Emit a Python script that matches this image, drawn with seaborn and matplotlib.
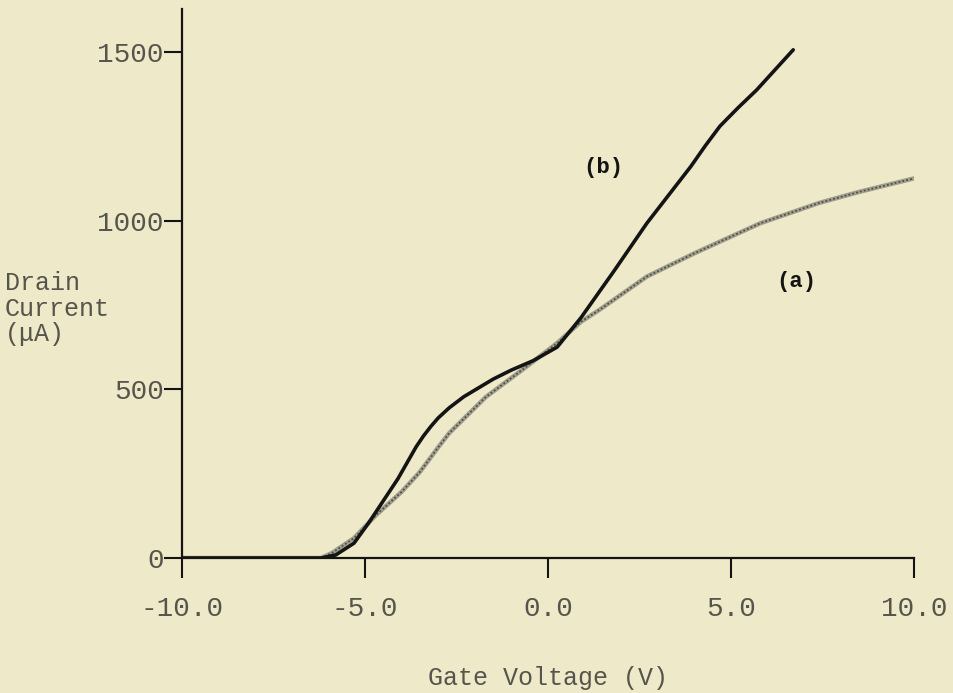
import matplotlib
matplotlib.use("Agg")
import matplotlib.pyplot as plt
import seaborn as sns
import pandas as pd

# ---- data ----
a_volts = [-10, -6.2, -5.9, -5.3, -4.7, -4.0, -3.5, -3.0, -2.7, -1.7, -0.6, 0.25, 0.9, 1.4, 2.7, 4.0, 5.8, 7.4, 8.5, 10.0]
a_current = [0, 0, 15, 59, 127, 196, 255, 328, 370, 477, 566, 637, 700, 735, 834, 903, 992, 1052, 1085, 1125]

b_volts = [-10, -6.2, -5.8, -5.3, -4.9, -4.1, -3.6, -3.4, -3.2, -3.0, -2.7, -2.3, -1.9, -1.5, -1.0, -0.4, 0.25, 0.9, 1.8, 2.7, 3.9, 4.3, 4.7, 5.2, 5.7, 6.7]
b_current = [0, 0, 9, 44, 104, 235, 330, 362, 390, 415, 445, 478, 504, 530, 557, 585, 625, 712, 850, 992, 1160, 1222, 1280, 1335, 1387, 1506]

x_ticks = [-10.0, -5.0, 0.0, 5.0, 10.0]
x_tick_labels = ["-10.0", "-5.0", "0.0", "5.0", "10.0"]
y_ticks = [0, 500, 1000, 1500]
y_tick_labels = ["0", "500", "1000", "1500"]

curve_labels = ["(a)", "(b)"]
label_pos_v = [6.78, 1.50]
label_pos_i = [818, 1156]

x_title = "Gate Voltage (V)"
y_title = "Drain\nCurrent\n(\u03bcA)"

# ---- styling ----
sns.set_style("ticks")
plt.rcParams["font.family"] = ["Liberation Mono", "DejaVu Sans Mono", "DejaVu Sans"]

bg = "#EEE9C9"
txt = "#55554b"
ink = "#141414"

fig = plt.figure(figsize=(9.54, 6.93), dpi=100, facecolor=bg)
ax = fig.add_axes([182 / 954, 1 - 558 / 693, 732 / 954, 549 / 693])
ax.set_facecolor(bg)

df_a = pd.DataFrame({"V": a_volts, "I": a_current})
df_b = pd.DataFrame({"V": b_volts, "I": b_current})

# curve (a): stippled grey line
sns.lineplot(data=df_a, x="V", y="I", ax=ax, color="#a09e8c", lw=3.2, sort=True)
sns.lineplot(data=df_a, x="V", y="I", ax=ax, color="#4e4e46", lw=1.3,
             linestyle=(0, (1, 1.2)), sort=True)
# curve (b): solid black
sns.lineplot(data=df_b, x="V", y="I", ax=ax, color=ink, lw=2.6, sort=True)
for ln in ax.lines:
    ln.set_solid_joinstyle("round")

for lab, v, i in zip(curve_labels, label_pos_v, label_pos_i):
    ax.text(v, i, lab, ha="center", va="center", fontsize=16,
            fontweight="bold", color=ink)

ax.set_xlim(-10, 10)
ax.set_ylim(0, 1627)
ax.set_xticks(x_ticks)
ax.set_xticklabels(x_tick_labels)
ax.set_yticks(y_ticks)
ax.set_yticklabels(y_tick_labels)

for s in ["top", "right"]:
    ax.spines[s].set_visible(False)
for s in ["left", "bottom"]:
    ax.spines[s].set_color(ink)
    ax.spines[s].set_linewidth(1.6)

ax.tick_params(axis="x", direction="out", length=14.5, width=1.5, color=ink,
               labelsize=20, labelcolor=txt, pad=13)
ax.tick_params(axis="y", direction="out", length=13, width=1.5, color=ink,
               labelsize=20, labelcolor=txt, pad=0)

ax.set_xlabel("")
ax.set_ylabel("")
fig.text(548 / 954, 1 - 678 / 693, x_title, ha="center", va="center",
         fontsize=18, color=txt)
fig.text(5 / 954, 1 - 271 / 693, y_title, ha="left", va="top",
         fontsize=18, color=txt, linespacing=1.08)

fig.savefig("out.png", dpi=100, facecolor=bg)
